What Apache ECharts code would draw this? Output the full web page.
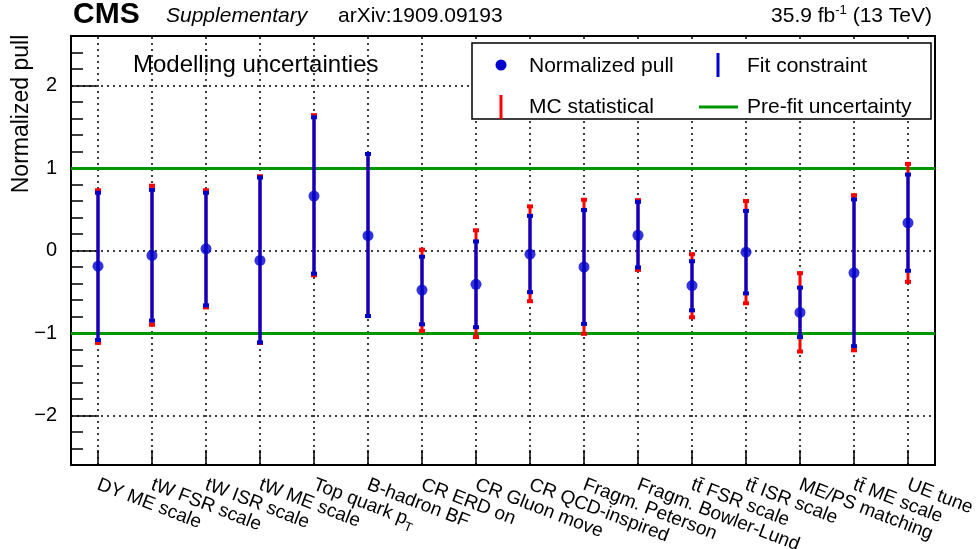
<!DOCTYPE html>
<html><head><meta charset="utf-8">
<script src="https://cdn.jsdelivr.net/npm/echarts@6/dist/echarts.min.js"></script>
<style>html,body{margin:0;padding:0;background:#fff}#c{width:976px;height:549px}</style>
</head><body><div id="c"></div>
<script>
// ---- data ----
const categories = ["DY ME scale","tW FSR scale","tW ISR scale","tW ME scale","Top quark pT","B-hadron BF",
  "CR ERD on","CR Gluon move","CR QCD-inspired","Fragm. Peterson","Fragm. Bowler-Lund",
  "tt\u0304 FSR scale","tt\u0304 ISR scale","ME/PS matching","tt\u0304 ME scale","UE tune"];
const pull    = [-0.19,-0.06, 0.02,-0.12, 0.66, 0.18,-0.48,-0.41,-0.045,-0.20, 0.185,-0.425,-0.02,-0.75,-0.27, 0.335];
const fitUp   = [ 0.70, 0.735,0.70, 0.885,1.615,1.17,-0.075,0.11, 0.42, 0.49, 0.59,-0.13, 0.48,-0.45, 0.62, 0.92];
const fitDown = [-1.085,-0.85,-0.665,-1.115,-0.28,-0.795,-0.895,-0.93,-0.505,-0.89,-0.205,-0.725,-0.52,-1.05,-1.16,-0.245];
const mcUp    = [ 0.73, 0.785,0.73, 0.90, 1.64, 1.17, 0.01, 0.245,0.535,0.615,0.61,-0.045,0.60,-0.275,0.67, 1.05];
const mcDown  = [-1.12,-0.90,-0.69,-1.12,-0.30,-0.795,-0.975,-1.05,-0.615,-1.01,-0.235,-0.81,-0.64,-1.225,-1.21,-0.38];
const prefitBand = [-1, 1];
const gridLevels = [-2, 0, 2];

// ---- style ----
const FONT = '"Liberation Sans", Arial, Helvetica, sans-serif';
const BLUE = '#0000cc', RED = '#ff0000', GREEN = '#009600';

function barRender(color, capW, lw) {
  return function (params, api) {
    const i = api.value(0);
    const top = api.coord([i, api.value(2)]);
    const bot = api.coord([i, api.value(1)]);
    const x = top[0];
    return { type: 'group', children: [
      { type: 'line', shape: { x1: x, y1: top[1], x2: x, y2: bot[1] }, style: { stroke: color, lineWidth: lw } },
      { type: 'rect', shape: { x: x - capW / 2, y: top[1] - 2, width: capW, height: 4 }, style: { fill: color } },
      { type: 'rect', shape: { x: x - capW / 2, y: bot[1] - 2, width: capW, height: 4 }, style: { fill: color } }
    ]};
  };
}

const chart = echarts.init(document.getElementById('c'), null, { renderer: 'canvas' });
const noMark = { symbol: ['none', 'none'], silent: true, animation: false, label: { show: false }, emphasis: { disabled: true } };

chart.setOption({
  animation: false,
  textStyle: { fontFamily: FONT },
  grid: { left: 71, right: 41, top: 36, bottom: 84, show: true, borderColor: '#000', borderWidth: 2,
          backgroundColor: 'transparent', containLabel: false, outerBoundsMode: 'none' },
  xAxis: {
    type: 'category', data: categories, boundaryGap: true,
    axisLine: { show: true, onZero: false, lineStyle: { color: '#000', width: 2 } },
    axisTick: { show: true, alignWithLabel: true, inside: true, length: 15, lineStyle: { color: '#000', width: 1.5 } },
    axisLabel: {
      interval: 0, rotate: -21, fontSize: 19, color: '#000', margin: 19, fontFamily: FONT,
      formatter: function (v) { return v === 'Top quark pT' ? 'Top quark p{sub|T}' : v; },
      rich: { sub: { fontSize: 13, color: '#000', fontFamily: FONT, padding: [14, 0, 0, 0] } }
    },
    splitLine: { show: false }
  },
  yAxis: [{
    type: 'value', min: -2.6, max: 2.6, minInterval: 1, maxInterval: 1, position: 'left',
    axisLine: { show: true, onZero: false, lineStyle: { color: '#000', width: 2 } },
    axisTick: { show: true, inside: true, length: 25, lineStyle: { color: '#000', width: 1.5 } },
    axisLabel: { fontSize: 20, color: '#000', margin: 14, fontFamily: FONT,
      formatter: function (v) { return Math.abs(v - Math.round(v)) < 1e-6 ? String(Math.round(v)).replace('-', '\u2212') : ''; } },
    splitLine: { show: false }
  }, {
    type: 'value', min: -2.6, max: 2.6, interval: 0.2, position: 'left',
    axisLine: { show: false, onZero: false }, axisLabel: { show: false }, splitLine: { show: false },
    axisTick: { show: true, inside: true, length: 12, lineStyle: { color: '#000', width: 1.5 } }
  }],
  series: [
    { name: 'grid', type: 'line', data: [], z: 1, silent: true,
      markLine: Object.assign({ z: 1, lineStyle: { color: '#000', type: [2, 4], width: 1.5 },
        data: categories.map((c, i) => ({ xAxis: i })).concat(gridLevels.map(v => ({ yAxis: v }))) }, noMark) },
    { name: 'Pre-fit uncertainty', type: 'line', data: [], z: 2, silent: true,
      markLine: Object.assign({ z: 2, lineStyle: { color: GREEN, type: 'solid', width: 3 },
        data: prefitBand.map(v => ({ yAxis: v })) }, noMark) },
    { name: 'MC statistical', type: 'custom', z: 3, silent: true,
      data: categories.map((c, i) => [i, mcDown[i], mcUp[i]]), encode: { x: 0, y: [1, 2] },
      renderItem: barRender(RED, 6, 3) },
    { name: 'Fit constraint', type: 'custom', z: 4, silent: true,
      data: categories.map((c, i) => [i, fitDown[i], fitUp[i]]), encode: { x: 0, y: [1, 2] },
      renderItem: barRender(BLUE, 6, 3.2) },
    { name: 'Normalized pull', type: 'scatter', z: 5, silent: true, symbol: 'circle', symbolSize: 11,
      itemStyle: { color: BLUE }, data: categories.map((c, i) => [i, pull[i]]) }
  ],
  graphic: [
    { type: 'text', x: 73, y: 15, z: 100, style: { text: 'CMS', font: 'bold 30px ' + FONT, fill: '#000', verticalAlign: 'middle' } },
    { type: 'text', x: 166, y: 16, z: 100, style: { text: 'Supplementary', font: 'italic 21px ' + FONT, fill: '#000', verticalAlign: 'middle' } },
    { type: 'text', x: 338, y: 16, z: 100, style: { text: 'arXiv:1909.09193', font: '21px ' + FONT, fill: '#000', verticalAlign: 'middle' } },
    { type: 'text', x: 932, y: 16, z: 100, style: { text: '{n|35.9 fb}{s|-1}{n| (13 TeV)}', align: 'right', verticalAlign: 'middle',
        rich: { n: { fontSize: 21, fontFamily: FONT, fill: '#000', lineHeight: 24 }, s: { fontSize: 13, fontFamily: FONT, fill: '#000', verticalAlign: 'top', lineHeight: 14 } } } },
    { type: 'text', x: 22, y: 114, rotation: Math.PI / 2, z: 100,
      style: { text: 'Normalized pull', font: '23px ' + FONT, fill: '#000', align: 'center', verticalAlign: 'middle' } },
    { type: 'text', x: 133, y: 65, z: 100, style: { text: 'Modelling uncertainties', font: '24px ' + FONT, fill: '#000', verticalAlign: 'middle' } },
    // legend
    { type: 'rect', z: 100, shape: { x: 472, y: 43, width: 459, height: 76 }, style: { fill: '#fff', stroke: '#000', lineWidth: 1.5 } },
    { type: 'circle', z: 101, shape: { cx: 501, cy: 65, r: 5.5 }, style: { fill: BLUE } },
    { type: 'text', z: 101, x: 529, y: 66, style: { text: 'Normalized pull', font: '21px ' + FONT, fill: '#000', verticalAlign: 'middle' } },
    { type: 'line', z: 101, shape: { x1: 718, y1: 53, x2: 718, y2: 77 }, style: { stroke: BLUE, lineWidth: 3 } },
    { type: 'text', z: 101, x: 747, y: 66, style: { text: 'Fit constraint', font: '21px ' + FONT, fill: '#000', verticalAlign: 'middle' } },
    { type: 'line', z: 101, shape: { x1: 501, y1: 95, x2: 501, y2: 119 }, style: { stroke: RED, lineWidth: 3 } },
    { type: 'text', z: 101, x: 529, y: 107, style: { text: 'MC statistical', font: '21px ' + FONT, fill: '#000', verticalAlign: 'middle' } },
    { type: 'line', z: 101, shape: { x1: 699, y1: 107, x2: 738, y2: 107 }, style: { stroke: GREEN, lineWidth: 3 } },
    { type: 'text', z: 101, x: 747, y: 107, style: { text: 'Pre-fit uncertainty', font: '21px ' + FONT, fill: '#000', verticalAlign: 'middle' } }
  ]
});
</script></body></html>
